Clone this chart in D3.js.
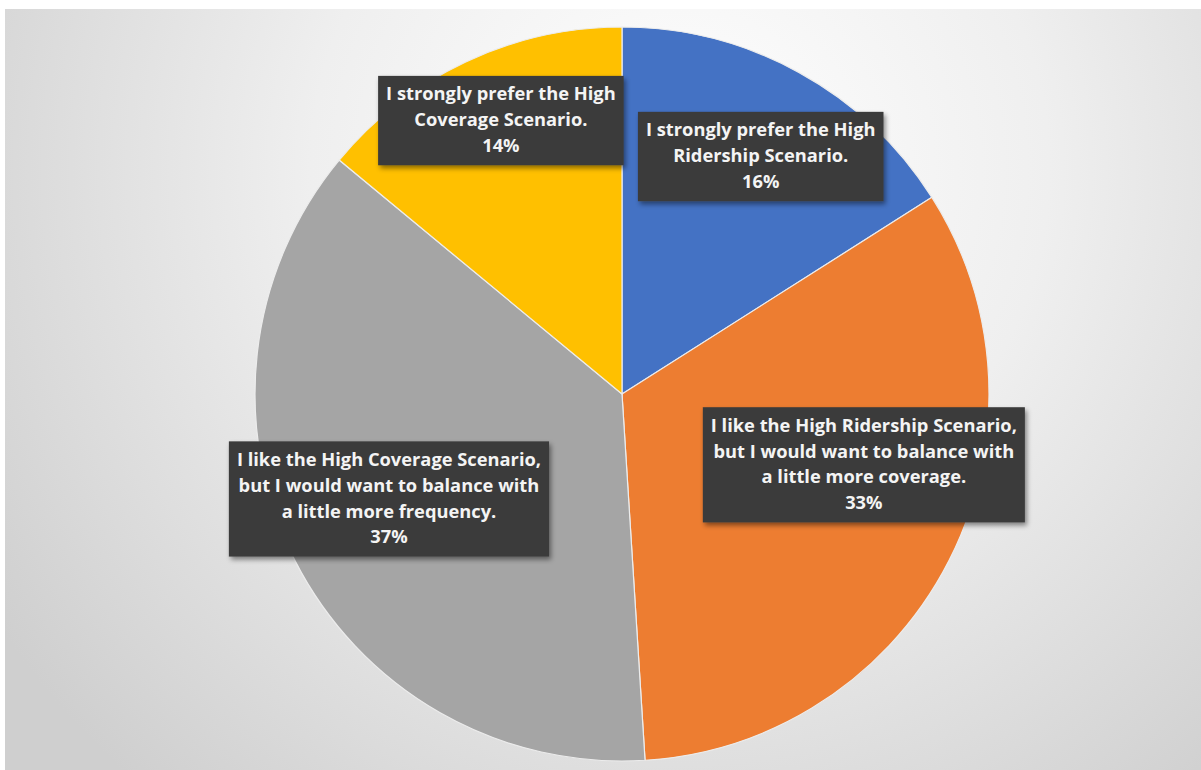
<!DOCTYPE html>
<html>
<head>
<meta charset="utf-8">
<script src="https://cdn.jsdelivr.net/npm/d3@7"></script>
<style>
  html, body { margin: 0; padding: 0; background: #ffffff; }
  svg { display: block; }
</style>
</head>
<body>
<svg id="chart" width="1201" height="770"></svg>
<script>
// Survey responses: preference between the two network scenarios
const categories = [
  "I strongly prefer the High Ridership Scenario.",
  "I like the High Ridership Scenario, but I would want to balance with a little more coverage.",
  "I like the High Coverage Scenario, but I would want to balance with a little more frequency.",
  "I strongly prefer the High Coverage Scenario."
];
const shares = [16, 33, 37, 14];
const labelLines = [
  ["I strongly prefer the High", "Ridership Scenario."],
  ["I like the High Ridership Scenario,", "but I would want to balance with", "a little more coverage."],
  ["I like the High Coverage Scenario,", "but I would want to balance with", "a little more frequency."],
  ["I strongly prefer the High", "Coverage Scenario."]
];
const sliceColors = ["#4472c4", "#ed7d31", "#a5a5a5", "#ffc000"];

// Data-label box centres, as offsets from the pie centre in units of the radius
const labelOffsets = [[0.378, -0.647], [0.659, 0.193], [-0.635, 0.286], [-0.330, -0.745]];

const W = 1201, H = 770;
const svg = d3.select("#chart");
const defs = svg.append("defs");

// Soft radial backdrop of the chart area
const bg = defs.append("radialGradient")
  .attr("id", "bgGrad")
  .attr("gradientUnits", "userSpaceOnUse")
  .attr("cx", 680).attr("cy", 170).attr("r", 820);
bg.append("stop").attr("offset", "0%").attr("stop-color", "#ffffff");
bg.append("stop").attr("offset", "45%").attr("stop-color", "#efefef");
bg.append("stop").attr("offset", "100%").attr("stop-color", "#cfcfcf");

const shadow = defs.append("filter").attr("id", "boxShadow")
  .attr("x", "-10%").attr("y", "-10%").attr("width", "125%").attr("height", "130%");
shadow.append("feDropShadow")
  .attr("dx", 2).attr("dy", 3).attr("stdDeviation", 2.5)
  .attr("flood-color", "#000").attr("flood-opacity", 0.45);

svg.append("rect").attr("x", 0).attr("y", 0).attr("width", W).attr("height", H).attr("fill", "#ffffff");
svg.append("rect").attr("x", 5).attr("y", 9).attr("width", W - 5).attr("height", H - 9)
  .attr("fill", "url(#bgGrad)");

const cx = 622, cy = 394, radius = 367;

const pie = d3.pie().sort(null).value(d => d)(shares);
const arc = d3.arc().innerRadius(0).outerRadius(radius);

const g = svg.append("g").attr("transform", `translate(${cx},${cy})`);

g.selectAll("path.slice")
  .data(pie)
  .join("path")
  .attr("class", "slice")
  .attr("d", arc)
  .attr("fill", (d, i) => sliceColors[i])
  .attr("stroke", "#ececec")
  .attr("stroke-width", 1.2)
  .append("title").text((d, i) => `${categories[i]} ${shares[i]}%`);

// Data labels: dark callout boxes with white bold text
const fontSize = 18.3, lineH = 25.8, padX = 8, padY = 6;
const labels = g.selectAll("g.label")
  .data(pie)
  .join("g")
  .attr("class", "label")
  .attr("transform", (d, i) =>
    `translate(${labelOffsets[i][0] * radius},${labelOffsets[i][1] * radius})`);

labels.each(function (d, i) {
  const lg = d3.select(this);
  const lines = labelLines[i].concat([`${shares[i]}%`]);
  const box = lg.append("rect").attr("fill", "#3b3b3b").attr("filter", "url(#boxShadow)");
  const text = lg.append("text")
    .attr("text-anchor", "middle")
    .attr("fill", "#f4f4f4")
    .attr("font-family", "'Open Sans', Lato, sans-serif")
    .attr("font-weight", 700)
    .attr("font-size", fontSize);
  const top = -lines.length * lineH / 2;
  lines.forEach((t, k) => {
    text.append("tspan")
      .attr("x", 0)
      .attr("y", top + k * lineH + lineH * 0.72)
      .text(t);
  });
  let maxW = 0;
  text.selectAll("tspan").each(function () {
    maxW = Math.max(maxW, this.getComputedTextLength());
  });
  const bw = maxW + 2 * padX, bh = lines.length * lineH + 2 * padY;
  box.attr("x", -bw / 2).attr("y", -bh / 2).attr("width", bw).attr("height", bh);
});
</script>
</body>
</html>
